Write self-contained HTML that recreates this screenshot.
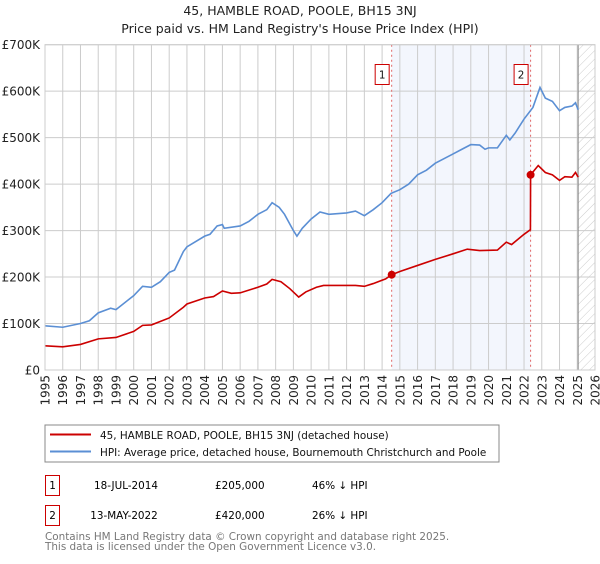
<!DOCTYPE html>
<html><head><meta charset="utf-8"><style>
body{margin:0;background:#fff;font-family:"DejaVu Sans","Liberation Sans",sans-serif;}
svg text{font-family:"DejaVu Sans","Liberation Sans",sans-serif;}
</style></head><body>
<svg id="chart" width="600" height="560" xmlns="http://www.w3.org/2000/svg">
<defs><pattern id="hatch" width="6" height="6" patternUnits="userSpaceOnUse" patternTransform="rotate(45)"><line x1="0" y1="0" x2="0" y2="6" stroke="#ccc" stroke-width="1"/></pattern></defs>
<text x="300" y="15" text-anchor="middle" font-size="12.5" fill="#222">45, HAMBLE ROAD, POOLE, BH15 3NJ</text>
<text x="300" y="33" text-anchor="middle" font-size="12.5" fill="#222">Price paid vs. HM Land Registry's House Price Index (HPI)</text>
<g id="grid"></g><g id="marks"></g><g id="axes"></g>
<rect x="45" y="425" width="454" height="37" fill="#fff" stroke="#888"/>
<line x1="50" y1="434.5" x2="91" y2="434.5" stroke="#cc0000" stroke-width="2"/>
<text x="100" y="439" font-size="10.4" fill="#111">45, HAMBLE ROAD, POOLE, BH15 3NJ (detached house)</text>
<line x1="50" y1="451.5" x2="91" y2="451.5" stroke="#5b8fd4" stroke-width="2"/>
<text x="100" y="456" font-size="10.4" fill="#111">HPI: Average price, detached house, Bournemouth Christchurch and Poole</text>
<g>
<rect x="45.5" y="475.5" width="14" height="20" fill="#fff" stroke="#cc0000"/>
<text x="52.5" y="489" text-anchor="middle" font-size="10.4">1</text>
<text x="126" y="489" text-anchor="middle" font-size="10.4">18-JUL-2014</text>
<text x="215" y="489" font-size="10.4">£205,000</text>
<text x="312" y="489" font-size="10.4">46% ↓ HPI</text></g>
<g>
<rect x="45.5" y="505.5" width="14" height="20" fill="#fff" stroke="#cc0000"/>
<text x="52.5" y="519" text-anchor="middle" font-size="10.4">2</text>
<text x="124" y="519" text-anchor="middle" font-size="10.4">13-MAY-2022</text>
<text x="215" y="519" font-size="10.4">£420,000</text>
<text x="312" y="519" font-size="10.4">26% ↓ HPI</text></g>
<text x="45" y="540" font-size="10.4" fill="#777">Contains HM Land Registry data © Crown copyright and database right 2025.</text>
<text x="45" y="550" font-size="10.4" fill="#777">This data is licensed under the Open Government Licence v3.0.</text>
</svg>
<script>
const yTicks=[0,100000,200000,300000,400000,500000,600000,700000];
const yTickLabels=["£0","£100K","£200K","£300K","£400K","£500K","£600K","£700K"];
const xYears=[1995,1996,1997,1998,1999,2000,2001,2002,2003,2004,2005,2006,2007,2008,2009,2010,2011,2012,2013,2014,2015,2016,2017,2018,2019,2020,2021,2022,2023,2024,2025,2026];
const hpiT=[1995,1996,1997,1997.5,1998,1998.7,1999,2000,2000.5,2001,2001.5,2002,2002.3,2002.8,2003,2004,2004.3,2004.7,2005,2005.1,2006,2006.5,2007,2007.5,2007.8,2008.2,2008.5,2009,2009.2,2009.5,2010,2010.5,2011,2012,2012.5,2013,2013.5,2014,2014.5,2015,2015.5,2016,2016.5,2017,2017.5,2018,2018.5,2019,2019.5,2019.8,2020,2020.5,2021,2021.2,2021.5,2022,2022.5,2022.9,2023.2,2023.6,2024,2024.3,2024.7,2024.9,2025.05];
const hpiV=[95000,92000,100000,106000,123000,133000,130000,160000,180000,178000,190000,210000,215000,255000,265000,288000,292000,310000,313000,305000,310000,320000,335000,345000,360000,350000,335000,300000,288000,305000,325000,340000,335000,338000,342000,332000,345000,360000,380000,388000,400000,420000,430000,445000,455000,465000,475000,485000,484000,475000,478000,478000,505000,495000,510000,540000,565000,608000,585000,578000,558000,565000,568000,575000,560000];
const priceT=[1995,1996,1997,1998,1999,2000,2000.5,2001,2002,2002.8,2003,2004,2004.5,2005,2005.5,2006,2007,2007.5,2007.8,2008.3,2008.8,2009.3,2009.7,2010.3,2010.7,2011.5,2012.5,2013,2013.5,2014.2,2014.54,2015,2016,2017,2018,2018.8,2019.5,2020.5,2021,2021.3,2022,2022.36,2022.37,2022.8,2023.2,2023.6,2024,2024.3,2024.7,2024.9,2025.05];
const priceV=[52000,50000,55000,67000,70000,83000,96000,97000,112000,135000,142000,155000,158000,170000,165000,166000,178000,185000,195000,190000,175000,157000,168000,178000,182000,182000,182000,180000,186000,196000,205000,212000,225000,238000,250000,260000,257000,258000,275000,270000,292000,302000,420000,440000,425000,420000,408000,416000,415000,425000,415000];
const saleT=[2014.54,2022.37];
const saleV=[205000,420000];
const saleLabels=["1","2"];
const X0=45,X1=595,Y0=370,Y1=44.7;
const xs=t=>X0+(t-1995)/(2026-1995)*(X1-X0);
const ys=v=>Y0-v/700000*(Y0-Y1);
const NS="http://www.w3.org/2000/svg";
function mk(p,tag,a){const e=document.createElementNS(NS,tag);for(const k in a)e.setAttribute(k,a[k]);p.appendChild(e);return e;}
const grid=document.getElementById('grid'),marks=document.getElementById('marks'),axes=document.getElementById('axes');
const shade=mk(grid,'rect',{x:xs(saleT[0]),y:Y1,width:xs(saleT[1])-xs(saleT[0]),height:Y0-Y1,fill:'#f3f6fd'});


const hatch=mk(grid,'rect',{x:xs(2025.05),y:Y1,width:X1-xs(2025.05),height:Y0-Y1,fill:'url(#hatch)'});


yTicks.forEach((v,i)=>{
 const l=mk(grid,'line',{x1:X0,x2:X1,y1:ys(v),y2:ys(v),stroke:'#ccc'});
 
 
 const t=mk(axes,'text',{x:40,y:ys(v)+4.5,'text-anchor':'end','font-size':12,fill:'#222'});
 t.textContent=yTickLabels[i];
 
 
});
xYears.forEach(y=>{
 const l=mk(grid,'line',{x1:xs(y),x2:xs(y),y1:Y1,y2:Y0,stroke:'#ccc'});
 
 
 const t=mk(axes,'text',{x:0,y:0,'text-anchor':'end','font-size':12,fill:'#222',transform:`translate(${xs(y)+4.5},375) rotate(-90)`});
 t.textContent=y;
 
 
});
const nowl=mk(grid,'line',{x1:xs(2025.05),x2:xs(2025.05),y1:Y1,y2:Y0,stroke:'#888'});


saleT.forEach((t,i)=>{
 const l=mk(marks,'line',{x1:xs(t),x2:xs(t),y1:Y1,y2:Y0,stroke:'#e06666','stroke-dasharray':'2,3'});
 
 
});
const hp=mk(marks,'polyline',{points:hpiT.map((t,i)=>xs(t)+','+ys(hpiV[i])).join(' '),fill:'none',stroke:'#5b8fd4','stroke-width':1.6});


const pp=mk(marks,'polyline',{points:priceT.map((t,i)=>xs(t)+','+ys(priceV[i])).join(' '),fill:'none',stroke:'#cc0000','stroke-width':1.6});


saleT.forEach((t,i)=>{
 const c=mk(marks,'circle',{cx:xs(t),cy:ys(saleV[i]),r:4,fill:'#cc0000'});
 
 
 const r=mk(marks,'rect',{x:xs(t)-16.5,y:64.5,width:14,height:20,fill:'#fff',stroke:'#cc0000'});
 
 
 const tx=mk(marks,'text',{x:xs(t)-9.5,y:78.5,'text-anchor':'middle','font-size':10.4,fill:'#111'});
 tx.textContent=saleLabels[i];
 
 
});
const frame=mk(axes,'rect',{x:X0,y:Y1,width:X1-X0,height:Y0-Y1,fill:'none',stroke:'#ccc'});


</script>
</body></html>
